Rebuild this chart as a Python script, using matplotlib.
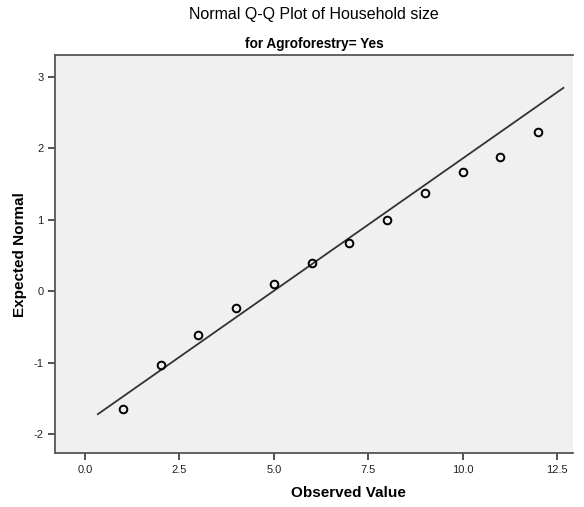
import numpy as np
import matplotlib.pyplot as plt

plt.rcParams['font.family'] = ['Liberation Sans', 'DejaVu Sans']
plt.rcParams['axes.unicode_minus'] = False

# observed household sizes and their expected normal scores
observed = [1, 2, 3, 4, 5, 6, 7, 8, 9, 10, 11, 12]
expected = [-1.65, -1.04, -0.61, -0.24, 0.10, 0.40, 0.67, 1.00, 1.38, 1.66, 1.87, 2.22]

# reference line: normal with fitted mean / sd, drawn over this x range
line_mean = 4.99
line_sd = 2.70
line_x = [0.34, 12.67]

xticks = [0.0, 2.5, 5.0, 7.5, 10.0, 12.5]
yticks = [-2, -1, 0, 1, 2, 3]

fig = plt.figure(figsize=(5.84, 5.07), dpi=100)
ax = fig.add_axes([0.0947, 0.1059, 0.8862, 0.785])
ax.set_facecolor('#f0f0f0')

lx = np.array(line_x)
ax.plot(lx, (lx - line_mean) / line_sd, color='#333333', lw=1.3)
ax.plot(observed, expected, 'o', mfc='none', mec='black', ms=5.5, mew=1.4)

ax.set_xlim(-0.787, 12.92)
ax.set_ylim(-2.27, 3.30)
ax.set_xticks(xticks)
ax.set_xticklabels([f'{t:.1f}' for t in xticks])
ax.set_yticks(yticks)

for s in ['left', 'top', 'bottom']:
    ax.spines[s].set_color('#555555')
    ax.spines[s].set_linewidth(1.3)
ax.spines['right'].set_visible(False)
ax.tick_params(direction='out', length=5, width=1.2, color='#333333',
               labelsize=8, labelcolor='#222222')

fig.text(0.538, 0.972, 'Normal Q-Q Plot of Household size', ha='center', va='center',
         fontsize=11.5)
fig.text(0.538, 0.913, 'for Agroforestry= Yes', ha='center', va='center',
         fontsize=9.8, fontweight='bold')
ax.set_xlabel('Observed Value', fontsize=11, fontweight='bold')
ax.set_ylabel('Expected Normal', fontsize=11, fontweight='bold')
ax.xaxis.set_label_coords(0.567, -0.083)
ax.yaxis.set_label_coords(-0.055, 0.5)

fig.savefig('out.png', dpi=100)
